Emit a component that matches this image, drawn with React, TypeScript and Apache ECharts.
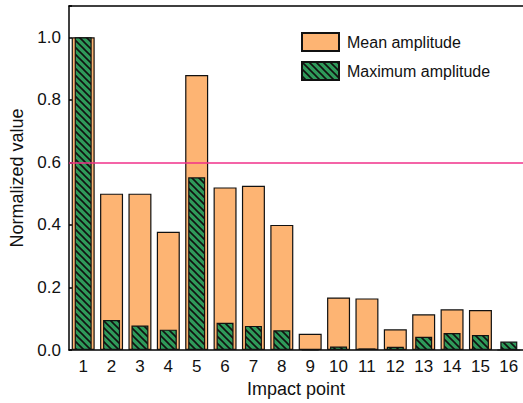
import React, { useEffect, useRef } from "react";
import * as echarts from "echarts";

const categories = ["1", "2", "3", "4", "5", "6", "7", "8", "9", "10", "11", "12", "13", "14", "15", "16"];
const meanAmplitude = [1.0, 0.5, 0.5, 0.378, 0.879, 0.52, 0.525, 0.4, 0.052, 0.168, 0.165, 0.066, 0.114, 0.13, 0.128, 0.0];
const maxAmplitude = [1.0, 0.096, 0.078, 0.065, 0.552, 0.087, 0.077, 0.063, 0.0, 0.011, 0.005, 0.01, 0.042, 0.054, 0.048, 0.027];
const thresholdValue = 0.6;
const seriesNames = ["Mean amplitude", "Maximum amplitude"];

function makeHatch(): HTMLCanvasElement {
  const s = 7;
  const c = document.createElement("canvas");
  c.width = s;
  c.height = s;
  const ctx = c.getContext("2d")!;
  ctx.fillStyle = "#2f9a5a";
  ctx.fillRect(0, 0, s, s);
  ctx.strokeStyle = "#111";
  ctx.lineWidth = 1.6;
  ctx.beginPath();
  ctx.moveTo(-1, -1);
  ctx.lineTo(s + 1, s + 1);
  ctx.moveTo(-1, s - 1);
  ctx.lineTo(1, s + 1);
  ctx.moveTo(s - 1, -1);
  ctx.lineTo(s + 1, 1);
  ctx.stroke();
  return c;
}

export default function App() {
  const ref = useRef<HTMLDivElement>(null);
  useEffect(() => {
    if (!ref.current) return;
    document.body.style.margin = "0";
    const chart = echarts.init(ref.current, null, { renderer: "svg" });
    const hatch = { image: makeHatch(), repeat: "repeat" } as any;
    const font = "Liberation Sans, Arial, sans-serif";
    const axisLine = { show: true, lineStyle: { color: "#000", width: 1.5 } };
    chart.setOption({
      animation: false,
      textStyle: { fontFamily: font },
      grid: { left: 69, right: 0, top: 6, bottom: 53, containLabel: false },
      legend: {
        orient: "vertical",
        left: 301,
        top: 32,
        padding: 0,
        itemWidth: 37,
        itemHeight: 18,
        itemGap: 9,
        icon: "rect",
        data: seriesNames,
        textStyle: { fontSize: 16, color: "#111", fontFamily: font, padding: [0, 0, 0, 3] },
      },
      xAxis: [
        {
          type: "category",
          data: categories,
          name: "Impact point",
          nameLocation: "middle",
          nameGap: 30,
          nameTextStyle: { fontSize: 18, color: "#111", fontFamily: font },
          axisLine,
          axisTick: { show: false },
          axisLabel: { fontSize: 17, color: "#111", margin: 8, interval: 0, fontFamily: font },
          splitLine: { show: false },
        },
        {
          type: "category",
          data: categories,
          position: "bottom",
          show: false,
        },
        {
          type: "category",
          data: categories,
          position: "top",
          axisLine,
          axisTick: { show: false },
          axisLabel: { show: false },
        },
      ],
      yAxis: {
        type: "value",
        min: 0,
        max: 1.1,
        interval: 0.2,
        name: "Normalized value",
        nameLocation: "middle",
        nameGap: 43,
        nameTextStyle: { fontSize: 18, color: "#111", fontFamily: font },
        axisLine,
        axisTick: { show: true, inside: true, length: 3, lineStyle: { color: "#000", width: 1.5 } },
        axisLabel: {
          fontSize: 17,
          color: "#111",
          margin: 8,
          fontFamily: font,
          formatter: (v: number) => (Math.abs(v * 5 - Math.round(v * 5)) < 1e-6 ? v.toFixed(1) : ""),
        },
        splitLine: { show: false },
      },
      series: [
        {
          name: seriesNames[0],
          type: "bar",
          xAxisIndex: 0,
          data: meanAmplitude,
          barWidth: 23,
          itemStyle: { color: "#fdb473", borderColor: "#111", borderWidth: 1.2 },
          markLine: {
            silent: true,
            symbol: "none",
            label: { show: false },
            lineStyle: { color: "#f0308a", width: 1.5, type: "solid" },
            data: [{ yAxis: thresholdValue }],
          },
          z: 2,
        },
        {
          name: seriesNames[1],
          type: "bar",
          xAxisIndex: 1,
          data: maxAmplitude,
          barWidth: 17,
          itemStyle: { color: hatch, borderColor: "#111", borderWidth: 1.2 },
          z: 3,
        },
      ],
    });
    return () => chart.dispose();
  }, []);
  return <div ref={ref} style={{ width: 523, height: 403 }} />;
}
